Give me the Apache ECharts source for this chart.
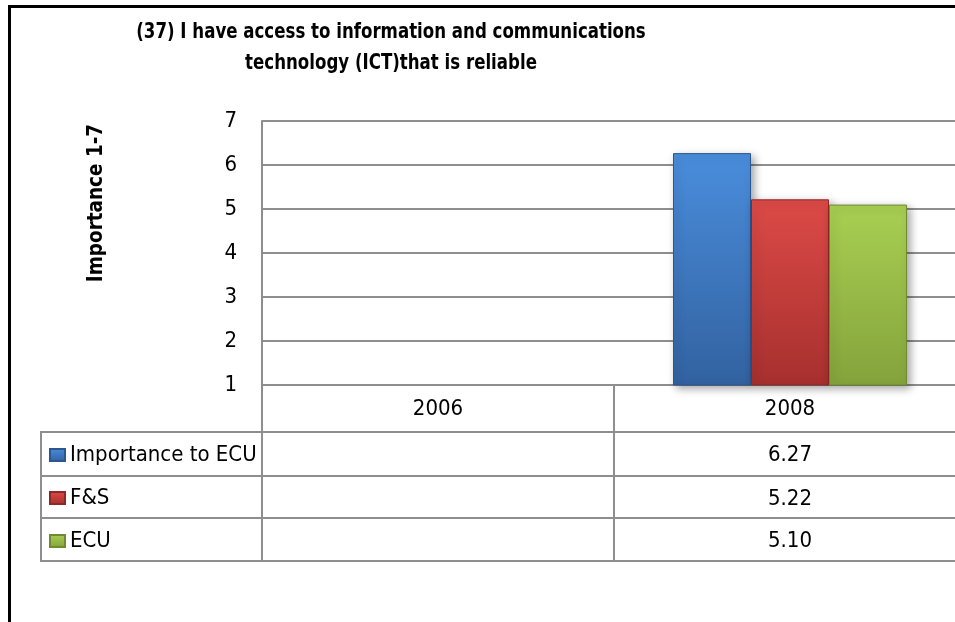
<!DOCTYPE html>
<html>
<head>
<meta charset="utf-8">
<script src="https://cdn.jsdelivr.net/npm/echarts@6/dist/echarts.min.js"></script>
<style>
  html, body { margin: 0; padding: 0; background: #fff; }
  #chart { width: 955px; height: 622px; }
</style>
</head>
<body>
<div id="chart"></div>
<script>
var FONT = "'Liberation Sans Narrow', 'Arial Narrow', 'DejaVu Sans Condensed', Roboto, sans-serif";

var years = ['2006', '2008'];
var seriesNames = ['Importance to ECU', 'F&S', 'ECU'];
var importanceToEcu = [null, 6.27];
var fAndS = [null, 5.22];
var ecu = [null, 5.10];
var yTicks = [1, 2, 3, 4, 5, 6, 7];
var titleLines = ['(37) I have access to information and communications', 'technology (ICT)that is reliable'];

var allValues = [importanceToEcu, fAndS, ecu];
// bar gradient colours (top, bottom)
var barColors = [
    ['#4a8ddc', '#3262a0'],
    ['#dc4a47', '#a6302e'],
    ['#a9cf52', '#84a33c']
];
var borderColors = ['#2b5690', '#8e2826', '#6f8a31'];

var myChart = echarts.init(document.getElementById('chart'));

var gridColor = '#8e8e8e';
var rowOffsets = [47, 91, 133];
var rowHeights = [44, 42, 43];

var xAxes = [{
    type: 'category',
    data: years,
    position: 'bottom',
    axisLine: { show: true, lineStyle: { color: gridColor, width: 2 } },
    axisTick: { show: true, length: 47, lineStyle: { color: gridColor, width: 2 } },
    axisLabel: { color: '#000', fontFamily: FONT, fontSize: 22, margin: 13 }
}];
for (var r = 0; r < 3; r++) {
    (function (vals, r) {
        xAxes.push({
            type: 'category',
            data: years,
            position: 'bottom',
            offset: rowOffsets[r],
            axisLine: { show: true, lineStyle: { color: gridColor, width: 2 } },
            axisTick: { show: true, length: rowHeights[r], lineStyle: { color: gridColor, width: 2 } },
            axisLabel: {
                color: '#000', fontFamily: FONT, fontSize: 22, margin: 12,
                formatter: function (v, idx) {
                    return vals[idx] == null ? '' : vals[idx].toFixed(2);
                }
            }
        });
    })(allValues[r], r);
}
// bottom line of the data table
xAxes.push({
    type: 'category',
    data: years,
    position: 'bottom',
    offset: 176,
    axisLine: { show: true, lineStyle: { color: gridColor, width: 2 } },
    axisTick: { show: false },
    axisLabel: { show: false }
});

var series = [];
for (var i = 0; i < 3; i++) {
    series.push({
        name: seriesNames[i],
        type: 'bar',
        xAxisIndex: 0,
        barWidth: 78,
        barGap: '0%',
        data: allValues[i],
        itemStyle: {
            color: new echarts.graphic.LinearGradient(0, 0, 0, 1, [
                { offset: 0, color: barColors[i][0] },
                { offset: 1, color: barColors[i][1] }
            ]),
            borderColor: borderColors[i],
            borderWidth: 1,
            shadowColor: 'rgba(0,0,0,0.35)',
            shadowBlur: 8,
            shadowOffsetX: 3,
            shadowOffsetY: 3
        }
    });
}

var option = {
    backgroundColor: '#fff',
    animation: false,
    legend: {
        orient: 'vertical',
        left: 49,
        top: 443,
        padding: 0,
        itemWidth: 15,
        itemHeight: 12,
        itemGap: 19,
        icon: 'rect',
        selectedMode: false,
        textStyle: { fontFamily: FONT, fontSize: 22, color: '#000', lineHeight: 24 },
        data: seriesNames
    },
    grid: { left: 262, width: 704, top: 121, bottom: 237, containLabel: false, outerBoundsMode: 'none' },
    xAxis: xAxes,
    yAxis: {
        type: 'value',
        min: yTicks[0],
        max: yTicks[yTicks.length - 1],
        interval: 1,
        axisLine: { show: true, lineStyle: { color: gridColor, width: 2 } },
        axisTick: { show: false },
        axisLabel: { color: '#000', fontFamily: FONT, fontSize: 22, margin: 25 },
        splitLine: { show: true, lineStyle: { color: gridColor, width: 2 } }
    },
    graphic: [
        // outer frame (left & top edges visible)
        { type: 'rect', shape: { x: 9.5, y: 6.5, width: 1100, height: 800 },
          style: { fill: null, stroke: '#000', lineWidth: 3 }, silent: true },
        // chart title (condensed horizontally like the original narrow face)
        { type: 'text', x: 391, y: 32, scaleX: 0.84,
          style: { text: titleLines[0], font: 'bold 22px ' + FONT, fill: '#000',
                   align: 'center', verticalAlign: 'middle' } },
        { type: 'text', x: 391, y: 63, scaleX: 0.84,
          style: { text: titleLines[1], font: 'bold 22px ' + FONT, fill: '#000',
                   align: 'center', verticalAlign: 'middle' } },
        // y axis title
        { type: 'text', x: 96, y: 203, rotation: Math.PI / 2, scaleX: 0.93,
          style: { text: 'Importance 1-7', font: 'bold 22px ' + FONT, fill: '#000',
                   align: 'center', verticalAlign: 'middle' } },
        // legend column of the data table
        { type: 'line', shape: { x1: 41, y1: 432, x2: 262, y2: 432 }, style: { stroke: gridColor, lineWidth: 2 } },
        { type: 'line', shape: { x1: 41, y1: 476, x2: 262, y2: 476 }, style: { stroke: gridColor, lineWidth: 2 } },
        { type: 'line', shape: { x1: 41, y1: 518, x2: 262, y2: 518 }, style: { stroke: gridColor, lineWidth: 2 } },
        { type: 'line', shape: { x1: 41, y1: 561, x2: 262, y2: 561 }, style: { stroke: gridColor, lineWidth: 2 } },
        { type: 'line', shape: { x1: 41, y1: 431, x2: 41, y2: 562 }, style: { stroke: gridColor, lineWidth: 2 } }
    ],
    series: series
};
myChart.setOption(option);
</script>
</body>
</html>
